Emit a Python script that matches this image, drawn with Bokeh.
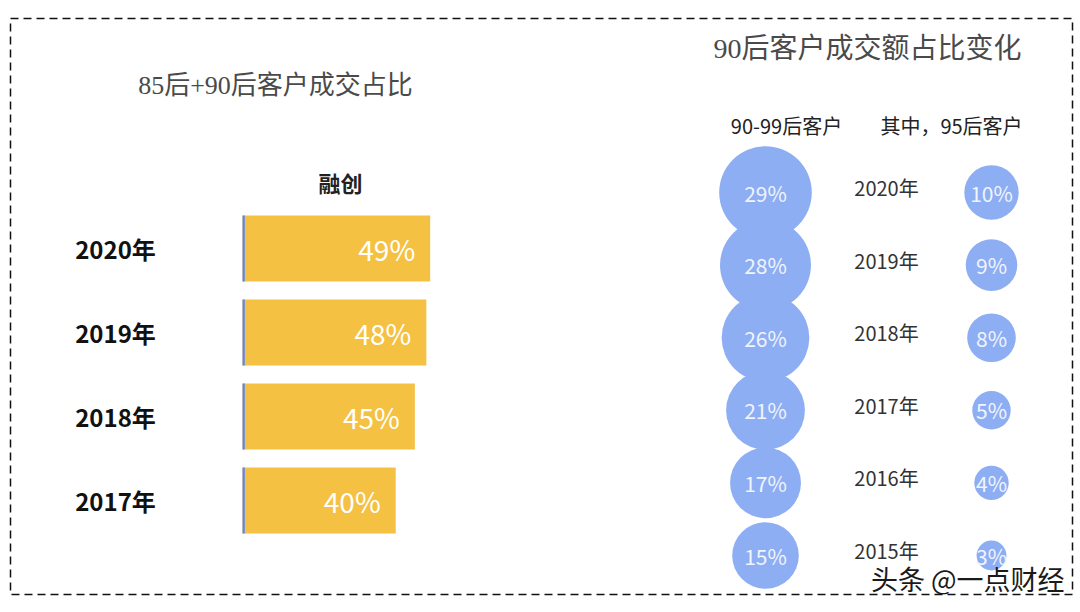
from bokeh.plotting import figure
from bokeh.models import Range1d, ColumnDataSource
from bokeh.core.properties import value
from bokeh.embed import file_html
from bokeh.resources import INLINE
import math

# ---------------- data ----------------
bar_title = "85后+90后客户成交占比"
bar_header = "融创"
bar_years = ["2020年", "2019年", "2018年", "2017年"]
bar_share = [49, 48, 45, 40]

bubble_title = "90后客户成交额占比变化"
bubble_headers = ["90-99后客户", "其中，95后客户"]
bubble_years = ["2020年", "2019年", "2018年", "2017年", "2016年", "2015年"]
share_90_99 = [29, 28, 26, 21, 17, 15]
share_95 = [10, 9, 8, 5, 4, 3]

watermark = "头条 @一点财经"

# ---------------- layout / style ----------------
W, H = 1074, 604
FRAME_W, FRAME_H = 1062, 576
BAR_COLOR = "#F5C143"
BUB_COLOR = "#8EAEF4"
STRIPE = "#5F88EE"
SANS = value("Noto Sans CJK SC")
SERIF = value("Liberation Serif, Noto Sans CJK SC")

PX_PER_PCT = 3.83
BAR_ZERO_X = 232
BAR_ROW0, BAR_STEP, BAR_H = 230, 84, 66
BUB_ROW0, BUB_STEP = 174, 72.6
COL_BIG, COL_YEAR, COL_SMALL = 755, 876, 981
SIZE_K = 17.2

p = figure(width=W, height=H, x_range=Range1d(0, FRAME_W), y_range=Range1d(FRAME_H, 0),
           output_backend="svg", toolbar_location=None,
           min_border_left=10, min_border_right=2, min_border_top=18, min_border_bottom=10)
p.axis.visible = False
p.grid.visible = False
p.outline_line_color = "#111111"
p.outline_line_dash = "8 5"
p.outline_line_width = 1.5
p.background_fill_color = "white"
p.border_fill_color = "white"

p.extra_x_ranges = {"pct": Range1d(-BAR_ZERO_X / PX_PER_PCT, (FRAME_W - BAR_ZERO_X) / PX_PER_PCT)}

# ---------------- left: bars ----------------
bar_src = ColumnDataSource(dict(
    y=[BAR_ROW0 + i * BAR_STEP for i in range(len(bar_years))],
    v=bar_share,
    lab=[f"{v}%" for v in bar_share],
    yr=bar_years,
    zero=[0] * len(bar_years),
    stripe=[0.6] * len(bar_years),
))
p.hbar(y="y", left="zero", right="v", height=BAR_H, source=bar_src,
       fill_color=BAR_COLOR, line_color=None, x_range_name="pct")
p.hbar(y="y", left="zero", right="stripe", height=BAR_H, source=bar_src,
       fill_color=STRIPE, line_color=None, x_range_name="pct")
p.text(x="v", y="y", text="lab", source=bar_src, x_range_name="pct",
       x_offset=-15, text_align="right", text_baseline="middle",
       text_color="white", text_font=SANS, text_font_size="28px")
p.text(x=105, y="y", text="yr", source=bar_src, text_align="center", text_baseline="middle",
       text_color="#111111", text_font=SANS, text_font_style="bold", text_font_size="24px")

p.text(x=[265], y=[67], text=[bar_title], text_align="center", text_baseline="middle",
       text_color="#4a4a4a", text_font=SERIF, text_font_size="26px")
p.text(x=[330], y=[163], text=[bar_header], text_align="center", text_baseline="middle",
       text_color="#222222", text_font=SANS, text_font_style="bold", text_font_size="22px")

# ---------------- right: bubbles ----------------
bub_src = ColumnDataSource(dict(
    y=[BUB_ROW0 + i * BUB_STEP for i in range(len(bubble_years))],
    yr=bubble_years,
    a=share_90_99,
    b=share_95,
    sa=[SIZE_K * math.sqrt(v) for v in share_90_99],
    sb=[SIZE_K * math.sqrt(v) for v in share_95],
    la=[f"{v}%" for v in share_90_99],
    lb=[f"{v}%" for v in share_95],
))
p.scatter(x=COL_BIG, y="y", size="sa", source=bub_src, fill_color=BUB_COLOR, line_color=None)
p.scatter(x=COL_SMALL, y="y", size="sb", source=bub_src, fill_color=BUB_COLOR, line_color=None)
p.text(x=COL_BIG, y="y", text="la", source=bub_src, text_align="center", text_baseline="middle",
       text_color="#F0F4FD", text_font=SANS, text_font_size="21px")
p.text(x=COL_SMALL, y="y", text="lb", source=bub_src, text_align="center", text_baseline="middle",
       text_color="#F0F4FD", text_font=SANS, text_font_size="21px")
p.text(x=COL_YEAR, y="y", text="yr", source=bub_src, y_offset=-5, text_align="center",
       text_baseline="middle", text_color="#333333", text_font=SANS, text_font_size="20px")

p.text(x=[857], y=[30], text=[bubble_title], text_align="center", text_baseline="middle",
       text_color="#4a4a4a", text_font=SERIF, text_font_size="28px")
p.text(x=[776, 941], y=[107, 107], text=bubble_headers, text_align="center", text_baseline="middle",
       text_color="#222222", text_font=SANS, text_font_size="20px")

# watermark
p.text(x=[1054], y=[560], text=[watermark], text_align="right", text_baseline="middle",
       text_color="#1a1a1a", text_font=SANS, text_font_size="27px")

open("out.html", "w").write(file_html(p, INLINE))
